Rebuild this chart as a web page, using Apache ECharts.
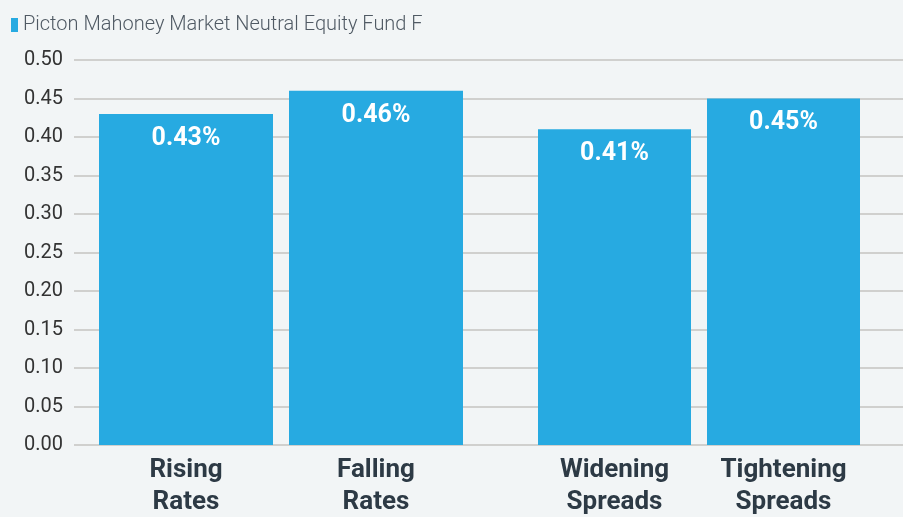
<!DOCTYPE html>
<html>
<head>
<meta charset="utf-8">
<script src="https://cdn.jsdelivr.net/npm/echarts@6/dist/echarts.min.js"></script>
<style>
  html, body { margin: 0; padding: 0; background: #f2f5f6; }
  #chart { width: 903px; height: 517px; }
</style>
</head>
<body>
<div id="chart"></div>
<script>
// data
var seriesName = "Picton Mahoney Market Neutral Equity Fund F";
var rateCategories = ["Rising\nRates", "Falling\nRates"];
var rateValues = [0.43, 0.46];
var spreadCategories = ["Widening\nSpreads", "Tightening\nSpreads"];
var spreadValues = [0.41, 0.45];
var yMin = 0, yMax = 0.5, yStep = 0.05;

var fontFamily = "Roboto, 'Noto Sans', sans-serif";
var barColor = "#27aae1";

var chart = echarts.init(document.getElementById("chart"));

var catAxis = function(grid, data) {
  return {
    type: "category",
    gridIndex: grid,
    data: data,
    axisLine: { show: false },
    axisTick: { show: false },
    axisLabel: {
      color: "#2d3a45",
      fontFamily: fontFamily,
      fontSize: 26,
      fontWeight: "bold",
      lineHeight: 32,
      margin: 9,
      interval: 0
    }
  };
};

var hiddenY = function(grid) {
  return { type: "value", gridIndex: grid, min: yMin, max: yMax, interval: yStep, show: false };
};

var barSeries = function(idx, values, width) {
  return {
    name: seriesName,
    type: "bar",
    xAxisIndex: idx,
    yAxisIndex: idx,
    barWidth: width,
    data: values,
    itemStyle: { color: barColor },
    label: {
      show: true,
      position: "insideTop",
      distance: 12,
      color: "#ffffff",
      fontFamily: fontFamily,
      fontSize: 25,
      fontWeight: "bold",
      formatter: function(p) {
        return p.value.toFixed(2) + "%";
      }
    },
    animation: false
  };
};

var makeGrid = function(left, right) {
  return { left: left, right: right, top: 60, bottom: 72, containLabel: false, outerBoundsMode: "none" };
};

chart.setOption({
  backgroundColor: "#f2f5f6",
  legend: {
    data: [seriesName],
    left: 6,
    top: 10,
    icon: "rect",
    itemWidth: 7,
    itemHeight: 14,
    itemGap: 6,
    textStyle: {
      color: "#505a64",
      fontFamily: fontFamily,
      fontSize: 20,
      fontWeight: 300
    }
  },
  grid: [
    makeGrid(74, 0),
    makeGrid(91, 432),
    makeGrid(530, 35)
  ],
  xAxis: [
    { type: "category", gridIndex: 0, data: [], show: false },
    catAxis(1, rateCategories),
    catAxis(2, spreadCategories)
  ],
  yAxis: [
    {
      type: "value",
      gridIndex: 0,
      min: yMin,
      max: yMax,
      interval: yStep,
      axisLine: { show: false },
      axisTick: { show: false },
      axisLabel: {
        color: "#333333",
        fontFamily: fontFamily,
        fontSize: 20,
        margin: 11,
        formatter: function(v) {
          return v.toFixed(2);
        }
      },
      splitLine: { lineStyle: { color: "#d0d0ce", width: 2 } }
    },
    hiddenY(1),
    hiddenY(2)
  ],
  series: [
    barSeries(1, rateValues, 174),
    barSeries(2, spreadValues, 153)
  ]
});
</script>
</body>
</html>
